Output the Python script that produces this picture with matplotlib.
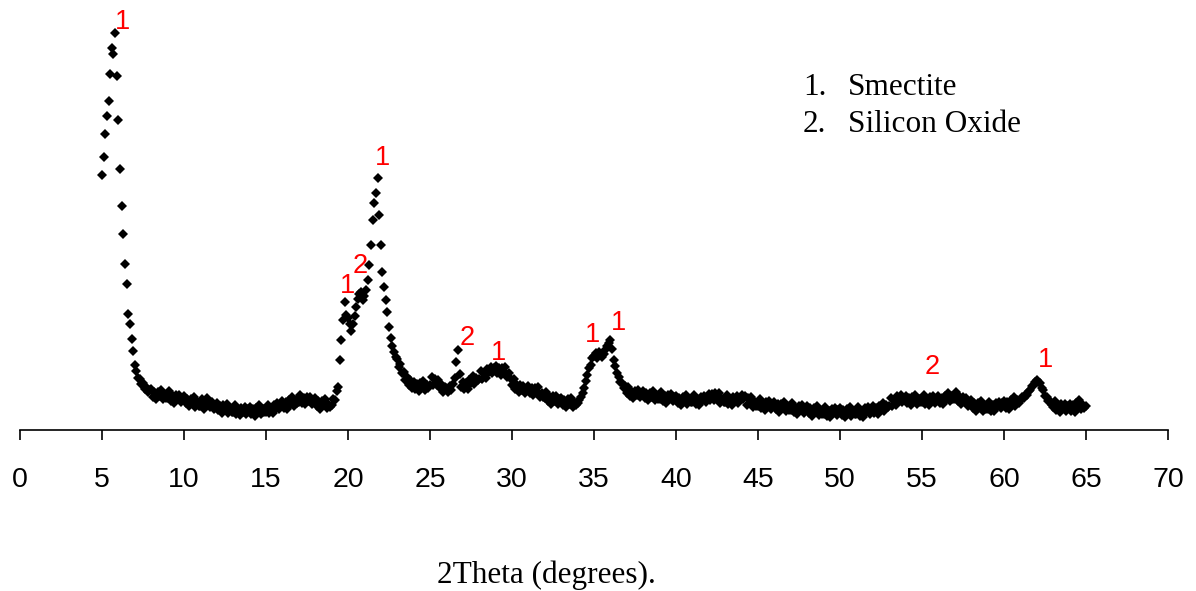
import numpy as np
import matplotlib
matplotlib.use('Agg')
import matplotlib.pyplot as plt

# XRD scan, 2theta from 5 to 65 deg, step 0.1 deg, intensity in counts (one row per degree)
SCAN_START = 5.0
SCAN_STEP = 0.1
counts_rows = [
    [2550, 2730, 2960, 3140, 3290, 3560, 3820, 3760, 3970, 3540],  # 5
    [3100, 2610, 2240, 1960, 1660, 1460, 1160, 1060, 910, 790],    # 6
    [650, 590, 520, 510, 460, 470, 410, 430, 380, 400],            # 7
    [410, 335, 380, 308, 385, 342, 400, 308, 355, 322],            # 8
    [320, 386, 292, 338, 274, 350, 306, 352, 278, 324],            # 9
    [340, 266, 312, 238, 314, 270, 326, 232, 278, 244],            # 10
    [240, 307, 214, 261, 320, 275, 232, 279, 206, 253],            # 11
    [270, 197, 244, 171, 248, 205, 262, 169, 216, 183],            # 12
    [180, 249, 158, 207, 146, 225, 184, 233, 162, 211],            # 13
    [230, 161, 212, 143, 224, 185, 246, 157, 208, 179],            # 14
    [180, 255, 170, 225, 170, 255, 220, 275, 210, 265],            # 15
    [290, 225, 280, 215, 300, 265, 330, 245, 300, 275],            # 16
    [280, 353, 266, 319, 260, 335, 290, 335, 260, 305],            # 17
    [320, 245, 290, 215, 292, 250, 308, 216, 265, 235],            # 18
    [250, 310, 300, 390, 430, 700, 900, 1100, 1280, 1150],         # 19
    [1120, 1060, 990, 1060, 1140, 1230, 1310, 1360, 1380, 1300],   # 20
    [1340, 1400, 1500, 1650, 1850, 2100, 2270, 2370, 2520, 2150],  # 21
    [1850, 1580, 1430, 1300, 1180, 1030, 920, 840, 780, 730],      # 22
    [710, 630, 660, 570, 580, 500, 530, 450, 500, 420],            # 23
    [480, 410, 460, 390, 470, 430, 490, 400, 450, 420],            # 24
    [450, 530, 450, 510, 450, 500, 420, 460, 380, 430],            # 25
    [420, 380, 440, 400, 460, 520, 680, 800, 560, 430],            # 26
    [480, 415, 470, 410, 500, 470, 540, 460, 520, 500],            # 27
    [510, 590, 510, 570, 520, 610, 580, 635, 570, 620],            # 28
    [640, 570, 620, 550, 625, 580, 630, 530, 570, 520],            # 29
    [450, 510, 410, 450, 380, 450, 400, 445, 370, 420],            # 30
    [440, 370, 418, 346, 424, 380, 430, 330, 370, 330],            # 31
    [320, 383, 286, 330, 265, 340, 295, 340, 265, 310],            # 32
    [325, 252, 300, 228, 306, 264, 322, 230, 280, 250],            # 33
    [270, 300, 330, 370, 420, 490, 550, 620, 650, 720],            # 34
    [740, 770, 720, 780, 750, 730, 760, 800, 840, 870],            # 35
    [900, 810, 700, 640, 570, 530, 480, 470, 420, 440],            # 36
    [370, 435, 340, 385, 320, 395, 350, 398, 326, 374],            # 37
    [392, 320, 368, 296, 374, 332, 390, 298, 346, 314],            # 38
    [312, 380, 288, 336, 274, 352, 310, 358, 286, 334],            # 39
    [345, 275, 325, 255, 335, 295, 355, 265, 315, 285],            # 40
    [285, 355, 265, 315, 255, 335, 295, 345, 280, 335],            # 41
    [360, 300, 360, 300, 375, 325, 370, 270, 315, 280],            # 42
    [280, 350, 260, 310, 250, 330, 290, 340, 270, 320],            # 43
    [350, 310, 340, 250, 320, 275, 330, 235, 280, 245],            # 44
    [240, 308, 216, 264, 202, 280, 238, 286, 214, 262],            # 45
    [280, 208, 256, 184, 262, 220, 278, 186, 234, 202],            # 46
    [200, 268, 176, 224, 162, 240, 198, 246, 174, 222],            # 47
    [240, 168, 216, 144, 222, 180, 238, 146, 194, 162],            # 48
    [160, 230, 140, 190, 130, 210, 170, 220, 150, 200],            # 49
    [220, 150, 200, 130, 210, 170, 230, 140, 190, 160],            # 50
    [160, 230, 140, 192, 134, 216, 178, 230, 162, 214],            # 51
    [236, 170, 225, 160, 245, 210, 275, 190, 250, 230],            # 52
    [240, 320, 240, 300, 250, 340, 310, 355, 280, 325],            # 53
    [340, 270, 320, 250, 330, 290, 350, 260, 310, 280],            # 54
    [280, 350, 260, 310, 250, 330, 290, 340, 270, 320],            # 55
    [340, 270, 325, 260, 345, 310, 375, 290, 340, 310],            # 56
    [310, 382, 290, 330, 260, 330, 280, 320, 240, 285],            # 57
    [300, 225, 270, 195, 270, 228, 286, 194, 242, 210],            # 58
    [210, 282, 194, 246, 188, 270, 232, 284, 216, 268],            # 59
    [290, 225, 280, 215, 300, 265, 330, 245, 300, 275],            # 60
    [300, 330, 320, 350, 350, 390, 400, 440, 450, 480],            # 61
    [500, 480, 470, 420, 400, 340, 330, 290, 290, 250],            # 62
    [230, 295, 200, 245, 180, 258, 216, 264, 192, 240],            # 63
    [260, 195, 250, 185, 270, 235, 300, 210, 255, 220],            # 64
    [240],                                                         # 65
]

# peak labels: (2theta, counts, phase number)
peak_theta = [6.28, 22.13, 20.73, 19.98, 27.26, 29.15, 34.88, 36.52, 55.61, 62.5]
peak_counts = [4080, 2720, 1640, 1440, 920, 770, 950, 1070, 630, 700]
peak_phase = ['1', '1', '2', '1', '2', '1', '1', '1', '2', '1']

phase_names = ['Smectite', 'Silicon Oxide']
x_ticks = list(range(0, 75, 5))

intensity = np.concatenate([np.array(r, dtype=float) for r in counts_rows])
two_theta = SCAN_START + SCAN_STEP * np.arange(len(intensity))

W, H = 1196, 591
fig = plt.figure(figsize=(W / 100, H / 100), dpi=100)
ax = fig.add_axes([20 / W, 1 - 430 / H, 1148 / W, 430 / H])

ax.plot(two_theta, intensity, 'D', ms=5.0, color='black', mew=0)

for t, c, p in zip(peak_theta, peak_counts, peak_phase):
    ax.text(t, c, p, color='red', fontsize=19.5, family='Liberation Sans',
            ha='center', va='center')

ax.set_xlim(0, 70)
ax.set_ylim(0, 4300)
for s in ['left', 'right', 'top']:
    ax.spines[s].set_visible(False)
ax.spines['bottom'].set_linewidth(1.2)
ax.set_yticks([])
ax.set_xticks(x_ticks)
ax.set_xticklabels([str(t) for t in x_ticks], family='Liberation Sans', fontsize=20.5)
ax.tick_params(axis='x', direction='out', length=7.5, width=1.2, pad=19)
ax.patch.set_alpha(0)

# phase legend as plain numbered list
for i, name in enumerate(phase_names):
    yb = 1 - (95 + 37 * i) / H
    fig.text(803 / W, yb, f'{i + 1}.', family='Liberation Serif', fontsize=22.5, va='baseline')
    fig.text(848 / W, yb, name, family='Liberation Serif', fontsize=22.5, va='baseline')

fig.text(437 / W, 1 - 583 / H, '2Theta (degrees).', family='Liberation Serif',
         fontsize=22.5, va='baseline')

fig.savefig('out.png', dpi=100)
